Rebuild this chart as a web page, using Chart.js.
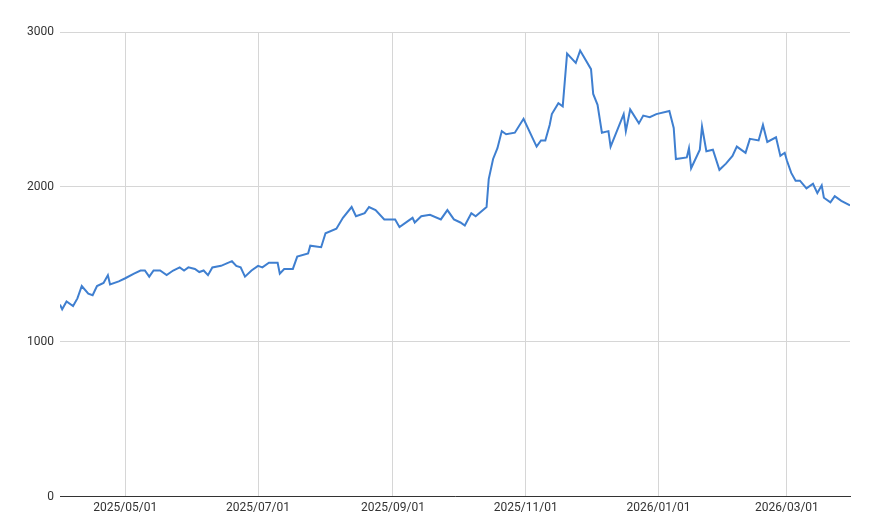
<!DOCTYPE html>
<html><head><meta charset="utf-8">
<script src="https://cdn.jsdelivr.net/npm/chart.js@4"></script>
<style>html,body{margin:0;background:#fff}#wrap{width:870px;height:527px}</style>
</head><body><div id="wrap"><canvas id="c"></canvas></div>
<script>
const dates = ['2025-04-01','2025-04-02','2025-04-04','2025-04-07','2025-04-09','2025-04-11','2025-04-14','2025-04-16','2025-04-18','2025-04-21','2025-04-23','2025-04-24','2025-04-28','2025-05-01','2025-05-05','2025-05-08','2025-05-10','2025-05-12','2025-05-14','2025-05-17','2025-05-20','2025-05-23','2025-05-26','2025-05-28','2025-05-30','2025-06-02','2025-06-04','2025-06-06','2025-06-08','2025-06-10','2025-06-14','2025-06-19','2025-06-21','2025-06-23','2025-06-25','2025-06-28','2025-07-01','2025-07-03','2025-07-06','2025-07-10','2025-07-11','2025-07-13','2025-07-17','2025-07-19','2025-07-24','2025-07-25','2025-07-30','2025-08-01','2025-08-06','2025-08-09','2025-08-13','2025-08-15','2025-08-19','2025-08-21','2025-08-24','2025-08-28','2025-09-02','2025-09-04','2025-09-08','2025-09-10','2025-09-11','2025-09-14','2025-09-18','2025-09-23','2025-09-26','2025-09-29','2025-10-02','2025-10-04','2025-10-07','2025-10-09','2025-10-14','2025-10-15','2025-10-17','2025-10-19','2025-10-21','2025-10-23','2025-10-27','2025-10-31','2025-11-04','2025-11-06','2025-11-08','2025-11-10','2025-11-12','2025-11-13','2025-11-16','2025-11-18','2025-11-20','2025-11-24','2025-11-26','2025-12-01','2025-12-02','2025-12-04','2025-12-06','2025-12-09','2025-12-10','2025-12-12','2025-12-16','2025-12-17','2025-12-19','2025-12-23','2025-12-25','2025-12-28','2025-12-31','2026-01-06','2026-01-08','2026-01-09','2026-01-14','2026-01-15','2026-01-16','2026-01-20','2026-01-21','2026-01-23','2026-01-26','2026-01-29','2026-02-01','2026-02-04','2026-02-06','2026-02-10','2026-02-12','2026-02-16','2026-02-18','2026-02-20','2026-02-24','2026-02-26','2026-02-28','2026-03-01','2026-03-03','2026-03-05','2026-03-07','2026-03-10','2026-03-13','2026-03-15','2026-03-17','2026-03-18','2026-03-21','2026-03-23','2026-03-26','2026-03-30'];
const values = [1240,1210,1260,1230,1280,1360,1310,1300,1360,1380,1430,1370,1390,1410,1440,1460,1460,1420,1460,1460,1430,1460,1480,1460,1480,1470,1450,1460,1430,1480,1490,1520,1490,1480,1420,1460,1490,1480,1510,1510,1440,1470,1470,1550,1570,1620,1610,1700,1730,1800,1870,1810,1830,1870,1850,1790,1790,1740,1780,1800,1770,1810,1820,1790,1850,1790,1770,1750,1830,1810,1870,2050,2180,2250,2360,2340,2350,2440,2320,2260,2300,2300,2400,2470,2540,2520,2860,2800,2880,2760,2600,2530,2350,2360,2260,2330,2470,2360,2500,2410,2460,2450,2470,2490,2380,2180,2190,2250,2120,2240,2390,2230,2240,2110,2150,2200,2260,2220,2310,2300,2400,2290,2320,2200,2220,2170,2090,2040,2040,1990,2020,1960,2010,1930,1900,1940,1910,1880];
const tickDates = ['2025-05-01','2025-07-01','2025-09-01','2025-11-01','2026-01-01','2026-03-01'];
const tickLabels = ['2025/05/01','2025/07/01','2025/09/01','2025/11/01','2026/01/01','2026/03/01'];

const day0 = Date.UTC(2025, 3, 1);
const toDay = s => { const p = s.split('-').map(Number); return (Date.UTC(p[0], p[1]-1, p[2]) - day0) / 86400000; };
const tickPos = tickDates.map(toDay);
const points = dates.map((d, i) => ({ x: toDay(d), y: values[i] }));

new Chart(document.getElementById('c'), {
  type: 'line',
  data: { datasets: [{ data: points, borderColor: '#3f7fd0', borderWidth: 2, pointRadius: 0, tension: 0 }] },
  options: {
    responsive: true, maintainAspectRatio: false, animation: false,
    layout: { padding: { left: 0, right: 20, top: 32, bottom: 8 } },
    plugins: { legend: { display: false }, tooltip: { enabled: false } },
    scales: {
      x: {
        type: 'linear', min: 0, max: toDay('2026-03-30'),
        afterBuildTicks: ax => { ax.ticks = tickPos.map(v => ({ value: v })); },
        ticks: { autoSkip: false, maxRotation: 0, color: '#333', font: { family: 'Roboto', size: 12 }, padding: 4,
          callback: v => tickLabels[tickPos.indexOf(v)] },
        grid: { color: '#d6d6d6', drawTicks: false },
        border: { color: '#333' }
      },
      y: {
        min: 0, max: 3000,
        afterFit: ax => { ax.width = 60; },
        ticks: { stepSize: 1000, color: '#333', font: { family: 'Roboto', size: 12 }, padding: 6,
          callback: v => String(v) },
        grid: { color: '#d6d6d6', drawTicks: false },
        border: { display: false }
      }
    }
  }
});
</script></body></html>
